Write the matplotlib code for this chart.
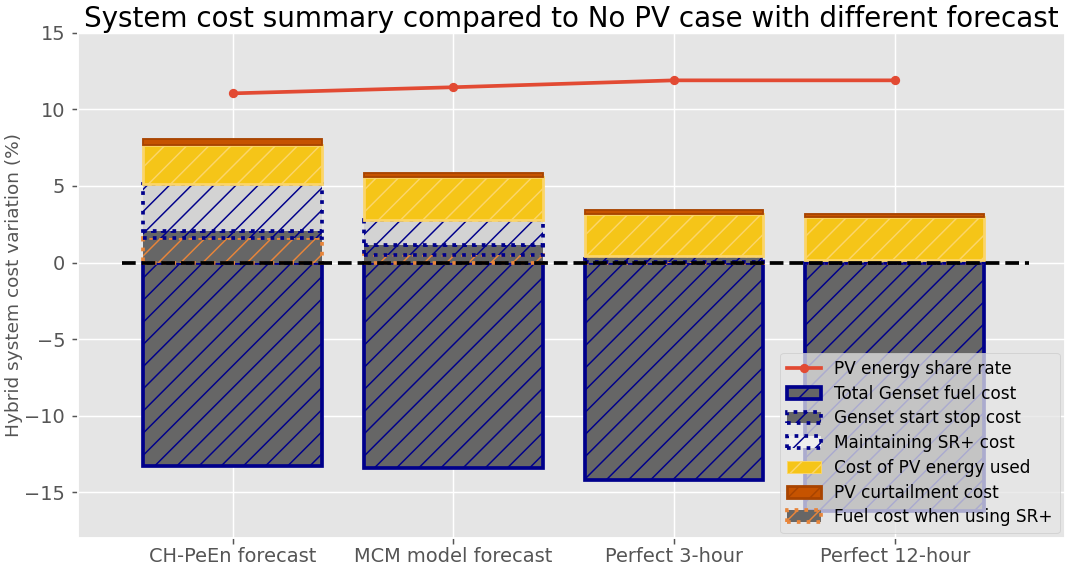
import numpy as np
import matplotlib.pyplot as plt
from matplotlib.patches import Patch
from matplotlib.lines import Line2D

plt.style.use('ggplot')
plt.rcParams['font.family'] = ['DejaVu Sans']
plt.rcParams['hatch.linewidth'] = 0.8

# 各场景数据 (%)
categories = ['CH-PeEn forecast', 'MCM model forecast', 'Perfect 3-hour', 'Perfect 12-hour']
pv_share = [11.05, 11.45, 11.9, 11.9]
fuel_total = [-13.3, -13.4, -14.2, -16.25]
fuel_sr = [1.63, 0.48, 0.05, 0.0]
start_stop = [0.42, 0.65, 0.40, 0.15]
maint_sr = [3.05, 1.67, 0.0, 0.0]
pv_used = [2.60, 2.80, 2.75, 2.81]
curtail = [0.40, 0.26, 0.25, 0.22]

DPI = 133.33
fig = plt.figure(figsize=(1070 / DPI, 567 / DPI), dpi=DPI)
ax = fig.add_axes([0.073, 0.051, 0.922, 0.891])

x = np.arange(len(categories))
w = 0.81
navy = '#00008B'
gray = '#666666'
yellow = '#F5C518'
orange = '#C65300'
sr_orange = '#E8853A'

fuel_sr = np.array(fuel_sr)
start_stop = np.array(start_stop)
maint_sr = np.array(maint_sr)
pv_used = np.array(pv_used)
curtail = np.array(curtail)

# 负向：燃油总成本
ax.bar(x, fuel_total, w, color=gray, edgecolor=navy, linewidth=2, hatch='//', zorder=2)

# 正向堆叠
b0 = np.zeros(len(x))
ax.bar(x, fuel_sr, w, bottom=b0, color=gray, edgecolor=sr_orange, linewidth=2,
       linestyle=':', hatch='//', zorder=2)
b1 = b0 + fuel_sr
ax.bar(x, start_stop, w, bottom=b1, color=gray, edgecolor=navy, linewidth=2,
       linestyle=':', hatch='//', zorder=2)
b2 = b1 + start_stop
ax.bar(x, maint_sr, w, bottom=b2, color='#D3D3D3', edgecolor=navy, linewidth=2,
       linestyle=':', hatch='//', zorder=2)
b3 = b2 + maint_sr
ax.bar(x, pv_used, w, bottom=b3, color=yellow, edgecolor='#FBD56A', linewidth=1.5,
       hatch='//', zorder=2)
b4 = b3 + pv_used
ax.bar(x, curtail, w, bottom=b4, color=orange, edgecolor='#A84400', linewidth=1,
       zorder=2)

# 光伏能量占比
ax.plot(x, pv_share, color='#E24A33', marker='o', markersize=4, linewidth=2, zorder=3)

ax.hlines(0, -0.5, 3.61, colors='black', linestyles='--', linewidth=2, zorder=4)

ax.set_xlim(-0.7, 3.77)
ax.set_ylim(-18, 15)
ax.set_yticks([-15, -10, -5, 0, 5, 10, 15])
ax.set_xticks(x)
ax.set_xticklabels(categories)
ax.tick_params(axis='both', labelsize=10.5, colors='#555555')
ax.tick_params(axis='x', pad=1.5)
ax.set_ylabel('Hybrid system cost variation (%)', fontsize=10, color='#555555')
ax.yaxis.set_label_coords(-0.056, 0.5)
ax.set_title('System cost summary compared to No PV case with different forecast',
             fontsize=15, color='black', pad=3)

handles = [
    Line2D([], [], color='#E24A33', marker='o', markersize=4, linewidth=2),
    Patch(facecolor=gray, edgecolor=navy, linewidth=2, hatch='//'),
    Patch(facecolor=gray, edgecolor=navy, linewidth=2, linestyle=':', hatch='//'),
    Patch(facecolor='#EEEEEE', edgecolor=navy, linewidth=2, linestyle=':', hatch='//'),
    Patch(facecolor=yellow, edgecolor='#FBD56A', hatch='//'),
    Patch(facecolor=orange, edgecolor='#A84400', linewidth=1.5, hatch='//'),
    Patch(facecolor=gray, edgecolor=sr_orange, linewidth=2, linestyle=':', hatch='//'),
]
labels = ['PV energy share rate', 'Total Genset fuel cost', 'Genset start stop cost',
          'Maintaining SR+ cost', 'Cost of PV energy used', 'PV curtailment cost',
          'Fuel cost when using SR+']
ax.legend(handles, labels, loc='lower right', fontsize=9.1, framealpha=0.75,
          borderaxespad=0.3, labelspacing=0.4)

fig.savefig('out.png', dpi=DPI)
